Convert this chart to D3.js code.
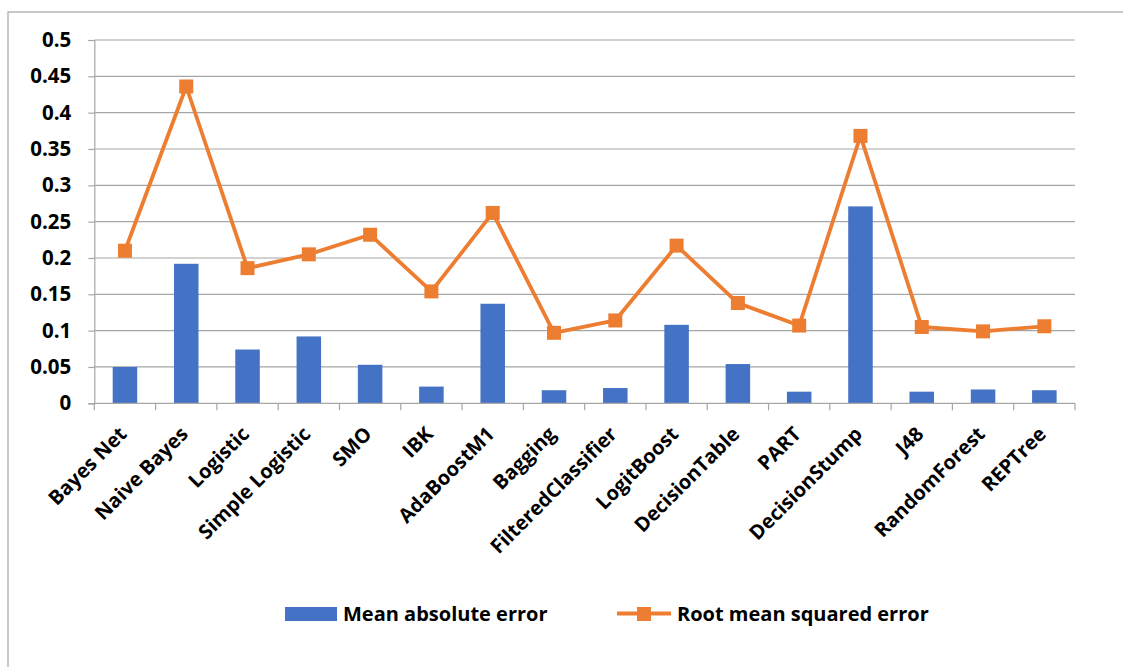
<!DOCTYPE html>
<html>
<head>
<meta charset="utf-8">
<script src="https://cdn.jsdelivr.net/npm/d3@7"></script>
<style>
  html, body { margin: 0; padding: 0; background: #fff; }
  svg { display: block; font-family: "Open Sans", Lato, "Noto Sans", sans-serif; }
</style>
</head>
<body>
<svg id="chart" width="1123" height="667"></svg>
<script>
// Classifier error comparison
const categories = ["Bayes Net", "Naive Bayes", "Logistic", "Simple Logistic", "SMO", "IBK",
  "AdaBoostM1", "Bagging", "FilteredClassifier", "LogitBoost", "DecisionTable", "PART",
  "DecisionStump", "J48", "RandomForest", "REPTree"];
const meanAbsoluteError = [0.050, 0.192, 0.074, 0.092, 0.053, 0.023, 0.137, 0.018,
  0.021, 0.108, 0.054, 0.016, 0.271, 0.016, 0.019, 0.018];
const rootMeanSquaredError = [0.210, 0.436, 0.186, 0.205, 0.232, 0.154, 0.262, 0.097,
  0.114, 0.217, 0.138, 0.107, 0.368, 0.105, 0.099, 0.106];
const yTicks = [0, 0.05, 0.1, 0.15, 0.2, 0.25, 0.3, 0.35, 0.4, 0.45, 0.5];
const seriesNames = ["Mean absolute error", "Root mean squared error"];

const blue = "#4472C4", orange = "#ED7D31", grid = "#a6a6a6";
const fontSize = 20;
const svg = d3.select("#chart");

// outer chart frame
svg.append("rect").attr("x", 8).attr("y", 12).attr("width", 1130).attr("height", 670)
  .attr("fill", "none").attr("stroke", "#a6a6a6").attr("stroke-width", 1.2);

const plotLeft = 94.3, plotRight = 1075, plotTop = 40, plotBottom = 403.3;
const x = d3.scaleBand().domain(categories).range([plotLeft, plotRight]).paddingInner(0).paddingOuter(0);
const y = d3.scaleLinear().domain([0, 0.5]).range([plotBottom, plotTop]);

// horizontal gridlines
svg.append("g").selectAll("line").data(yTicks.filter(d => d > 0)).join("line")
  .attr("x1", plotLeft).attr("x2", plotRight)
  .attr("y1", d => y(d)).attr("y2", d => y(d))
  .attr("stroke", grid).attr("stroke-width", 1.2);

// y axis with short outer ticks
const yAxis = d3.axisLeft(y).tickValues(yTicks).tickFormat(d => String(+d.toFixed(2)))
  .tickSize(6).tickPadding(17);
const gy = svg.append("g").attr("transform", `translate(${plotLeft},0)`).call(yAxis);
gy.select(".domain").attr("stroke", grid).attr("stroke-width", 1.2);
gy.selectAll(".tick line").attr("stroke", grid).attr("stroke-width", 1.2);
gy.selectAll("text").attr("font-size", 20.5).attr("font-weight", 700).attr("fill", "#000")
  .attr("font-family", "'Open Sans', Lato, sans-serif");

// bars
const barW = x.bandwidth() * 0.4;
svg.append("g").selectAll("rect").data(categories).join("rect")
  .attr("x", (d) => x(d) + (x.bandwidth() - barW) / 2)
  .attr("y", (d, i) => y(meanAbsoluteError[i]))
  .attr("width", barW)
  .attr("height", (d, i) => plotBottom - y(meanAbsoluteError[i]))
  .attr("fill", blue);

// x axis with category ticks at band edges
svg.append("line").attr("x1", plotLeft).attr("x2", plotRight).attr("y1", plotBottom).attr("y2", plotBottom)
  .attr("stroke", grid).attr("stroke-width", 1.2);
const edges = categories.map(d => x(d)).concat([plotRight]);
svg.append("g").selectAll("line").data(edges).join("line")
  .attr("x1", d => d).attr("x2", d => d).attr("y1", plotBottom).attr("y2", plotBottom + 7)
  .attr("stroke", grid).attr("stroke-width", 1.2);

// rotated category labels
svg.append("g").selectAll("text").data(categories).join("text")
  .attr("transform", d => `translate(${x(d) + x.bandwidth() / 2 + 3},${plotBottom + 32}) rotate(-45)`)
  .attr("text-anchor", "end")
  .attr("font-size", fontSize).attr("font-weight", 700).attr("fill", "#000")
  .text(d => d);

// line series with square markers
const line = d3.line().x((d, i) => x(categories[i]) + x.bandwidth() / 2).y(d => y(d));
svg.append("path").datum(rootMeanSquaredError).attr("d", line)
  .attr("fill", "none").attr("stroke", orange).attr("stroke-width", 3.8).attr("stroke-linejoin", "round");
const mk = 14;
svg.append("g").selectAll("rect").data(rootMeanSquaredError).join("rect")
  .attr("x", (d, i) => x(categories[i]) + x.bandwidth() / 2 - mk / 2)
  .attr("y", d => y(d) - mk / 2)
  .attr("width", mk).attr("height", mk)
  .attr("fill", orange);

// legend
const lg = svg.append("g").attr("font-size", fontSize).attr("font-weight", 700).attr("fill", "#000");
lg.append("rect").attr("x", 285).attr("y", 607).attr("width", 52).attr("height", 14).attr("fill", blue);
lg.append("text").attr("x", 343).attr("y", 621).text(seriesNames[0]);
lg.append("line").attr("x1", 617).attr("x2", 671).attr("y1", 613.5).attr("y2", 613.5)
  .attr("stroke", orange).attr("stroke-width", 3.8);
lg.append("rect").attr("x", 637).attr("y", 607).attr("width", 14).attr("height", 14).attr("fill", orange);
lg.append("text").attr("x", 677).attr("y", 621).text(seriesNames[1]);
</script>
</body>
</html>
